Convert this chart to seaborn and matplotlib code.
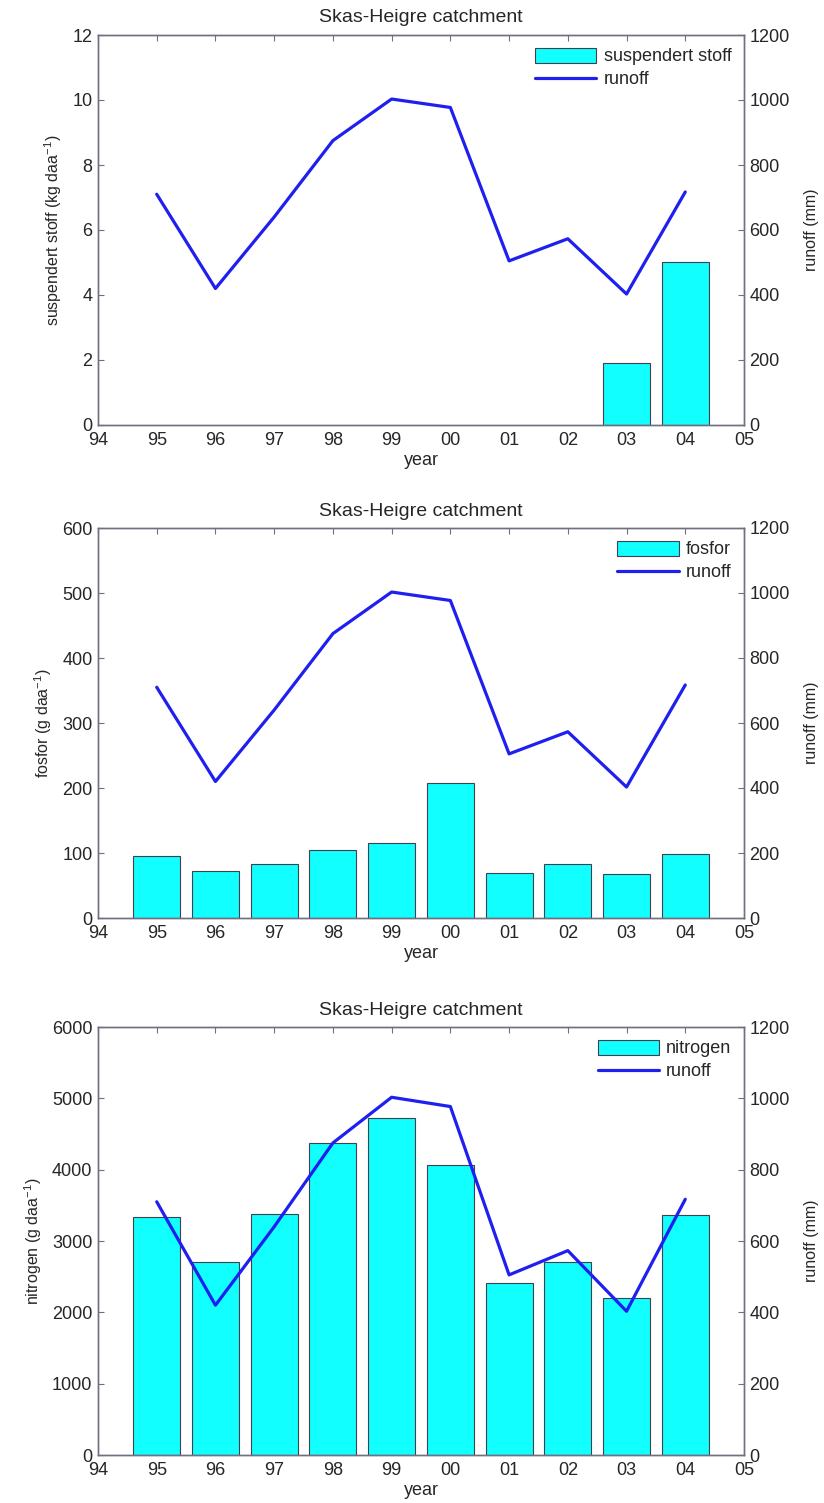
import matplotlib
matplotlib.use("Agg")
import matplotlib.pyplot as plt
import seaborn as sns

# year labels on the x axis (94 and 05 are empty end slots)
year_labels = ["94", "95", "96", "97", "98", "99", "00", "01", "02", "03", "04", "05"]
data_years = ["95", "96", "97", "98", "99", "00", "01", "02", "03", "04"]

runoff = [710, 420, 640, 875, 1003, 977, 505, 573, 403, 717]

ss_years = ["03", "04"]
suspendert_stoff = [1.92, 5.0]

fosfor = [96, 72, 83, 105, 116, 207, 69, 83, 67, 98]
nitrogen = [3330, 2710, 3380, 4380, 4720, 4070, 2410, 2700, 2200, 3370]

sns.set_style("white")
plt.rcParams["font.family"] = ["Liberation Sans", "DejaVu Sans"]
plt.rcParams["mathtext.fontset"] = "custom"
plt.rcParams["mathtext.rm"] = "Liberation Sans"
plt.rcParams["mathtext.it"] = "Liberation Sans"

bar_color = "#12FFFF"
line_color = "#1F1FF0"
spine_color = "#707080"

fig = plt.figure(figsize=(8.24, 15.03), dpi=100)
W, H = 824, 1503
left, right = 98, 744
boxes = [(35, 425), (528, 918), (1027, 1455)]

panels = [
    (ss_years, suspendert_stoff, "suspendert stoff", "suspendert stoff (kg daa$^{-1}$)", 12, 2),
    (data_years, fosfor, "fosfor", "fosfor (g daa$^{-1}$)", 600, 100),
    (data_years, nitrogen, "nitrogen", "nitrogen (g daa$^{-1}$)", 6000, 1000),
]

pos = {y: i for i, y in enumerate(year_labels)}

for (top, bot), (yrs, vals, name, ylab, ymax, ystep) in zip(boxes, panels):
    ax = fig.add_axes([left / W, 1 - bot / H, (right - left) / W, (bot - top) / H])
    sns.barplot(x=yrs, y=vals, order=year_labels, color=bar_color, saturation=1,
                edgecolor="#404050", linewidth=0.8, width=0.8, ax=ax, label=name)
    ax.set_xlim(0, 11)
    ax.set_ylim(0, ymax)
    ax.set_yticks(range(0, ymax + 1, ystep))
    ax.set_xticks(range(12))
    ax.set_xticklabels(year_labels)
    ax.set_xlabel("year", fontsize=13, labelpad=2)
    ax.set_ylabel(ylab, fontsize=11.5, labelpad=6)
    ax.set_title("Skas-Heigre catchment", fontsize=14, pad=9)

    ax2 = ax.twinx()
    sns.lineplot(x=[pos[y] for y in data_years], y=runoff, color=line_color,
                 linewidth=2.3, ax=ax2, label="runoff")
    ax2.set_xlim(0, 11)
    ax2.set_ylim(0, 1200)
    ax2.set_yticks(range(0, 1201, 200))
    ax2.set_ylabel("runoff (mm)", fontsize=11.5, labelpad=10)

    for a in (ax, ax2):
        a.tick_params(direction="in", length=4, labelsize=13, color=spine_color,
                      pad=4, top=True)
        for s in a.spines.values():
            s.set_color(spine_color)
            s.set_linewidth(1.0)
    ax.tick_params(axis="x", pad=5)

    h1, l1 = ax.get_legend_handles_labels()
    h2, l2 = ax2.get_legend_handles_labels()
    if ax.get_legend():
        ax.get_legend().remove()
    ax2.legend(h1[:1] + h2, l1[:1] + l2, loc="upper right", frameon=False,
               fontsize=13, handlelength=3.4, handleheight=0.9, handletextpad=0.4,
               borderaxespad=0.3, labelspacing=0.3)

fig.savefig("out.png", dpi=100)
